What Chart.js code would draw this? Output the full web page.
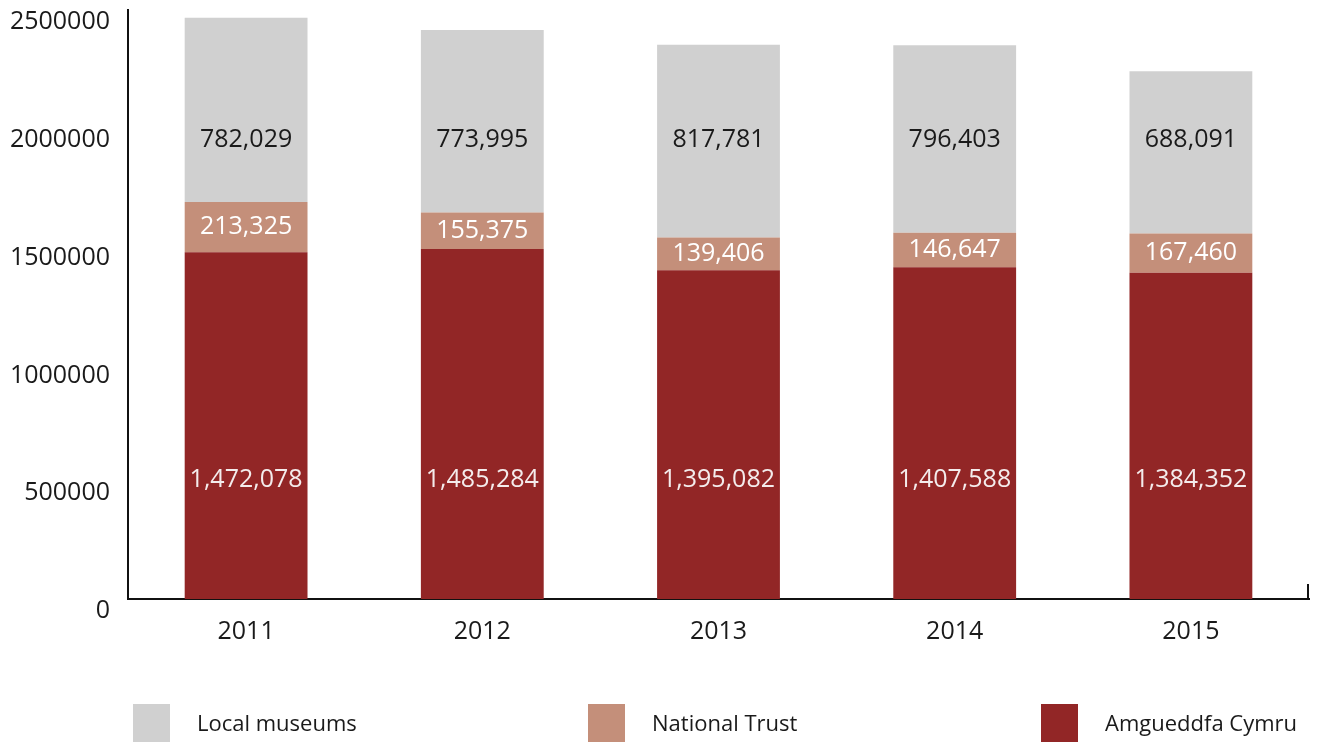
<!DOCTYPE html>
<html>
<head>
<meta charset="utf-8">
<script src="https://cdn.jsdelivr.net/npm/chart.js@4.4.1/dist/chart.umd.min.js"></script>
<style>
  html, body { margin: 0; padding: 0; background: #fff; }
  #wrap { position: relative; width: 1324px; height: 742px; overflow: hidden; }
  canvas { position: absolute; left: 0; top: 0; }
  .lg { position: absolute; top: 704px; height: 38px; font: 22px "Open Sans", "Noto Sans", sans-serif; color: #1a1a1a; }
  .lg span.box { position: absolute; left: 0; top: 0; width: 37px; height: 38px; }
  .lg span.txt { position: absolute; left: 64px; top: 3px; white-space: nowrap; }
</style>
</head>
<body>
<div id="wrap">
  <canvas id="c" width="1324" height="742"></canvas>
  <div class="lg" style="left:133px"><span class="box" style="background:#d0d0d0"></span><span class="txt">Local museums</span></div>
  <div class="lg" style="left:588px"><span class="box" style="background:#c48f7a"></span><span class="txt">National Trust</span></div>
  <div class="lg" style="left:1041px"><span class="box" style="background:#922626"></span><span class="txt">Amgueddfa Cymru</span></div>
</div>
<script>
// Visitor numbers per year
const years = ["2011", "2012", "2013", "2014", "2015"];
const amgueddfa = [1472078, 1485284, 1395082, 1407588, 1384352];
const nationalTrust = [213325, 155375, 139406, 146647, 167460];
const localMuseums = [782029, 773995, 817781, 796403, 688091];
const yTicks = [0, 500000, 1000000, 1500000, 2000000, 2500000];

// labels of the outer segments sit at a fixed level, as in the original
const labelLevels = [505000, null, 1950000];

const FONT = '"Open Sans", "Noto Sans", sans-serif';

const fmt = v => v.toLocaleString("en-US");

const labelPlugin = {
  id: "segLabels",
  afterDatasetsDraw(chart) {
    const c = chart.ctx;
    const y = chart.scales.y;
    const a = chart.chartArea;
    c.save();
    c.font = "25px " + FONT;
    c.textBaseline = "middle";
    // y tick labels (drawn by hand so the top of the axis stays high)
    c.textAlign = "right";
    c.fillStyle = "#1a1a1a";
    yTicks.forEach(v => c.fillText(String(v), a.left - 18, y.getPixelForValue(v) + 12));

    c.textAlign = "center";
    chart.data.datasets.forEach((ds, di) => {
      const meta = chart.getDatasetMeta(di);
      meta.data.forEach((bar, i) => {
        let py;
        if (labelLevels[di] != null) py = y.getPixelForValue(labelLevels[di]);
        else py = (bar.y + bar.base) / 2;
        c.fillStyle = ds.labelColor;
        c.fillText(fmt(ds.data[i]), bar.x, py);
      });
    });
    // small end tick on the x axis
    c.strokeStyle = "#111";
    c.lineWidth = 2;
    c.beginPath();
    c.moveTo(a.right - 1, a.bottom);
    c.lineTo(a.right - 1, a.bottom - 15);
    c.stroke();
    c.restore();
  }
};

new Chart(document.getElementById("c"), {
  type: "bar",
  data: {
    labels: years,
    datasets: [
      { label: "Amgueddfa Cymru", data: amgueddfa, backgroundColor: "#922626", labelColor: "#f4ecec" },
      { label: "National Trust", data: nationalTrust, backgroundColor: "#c48f7a", labelColor: "#ffffff" },
      { label: "Local museums", data: localMuseums, backgroundColor: "#d0d0d0", labelColor: "#1a1a1a" }
    ]
  },
  options: {
    responsive: false,
    animation: false,
    layout: { padding: { top: 10, right: 15, bottom: 63, left: 0 } },
    datasets: { bar: { categoryPercentage: 1, barPercentage: 0.52 } },
    plugins: { legend: { display: false }, tooltip: { enabled: false } },
    scales: {
      x: {
        stacked: true,
        grid: { display: false, drawTicks: false },
        border: { display: true, color: "#111", width: 2 },
        ticks: { color: "#1a1a1a", font: { family: FONT, size: 25 }, padding: 18 },
        afterFit: s => { s.height = 80; }
      },
      y: {
        stacked: true,
        min: 0,
        max: 2500000,
        afterBuildTicks: s => { s.ticks = yTicks.map(v => ({ value: v })); },
        grid: { display: false, drawTicks: false },
        border: { display: true, color: "#111", width: 2 },
        ticks: { display: false },
        afterFit: s => { s.width = 128; }
      }
    }
  },
  plugins: [labelPlugin]
});
</script>
</body>
</html>
